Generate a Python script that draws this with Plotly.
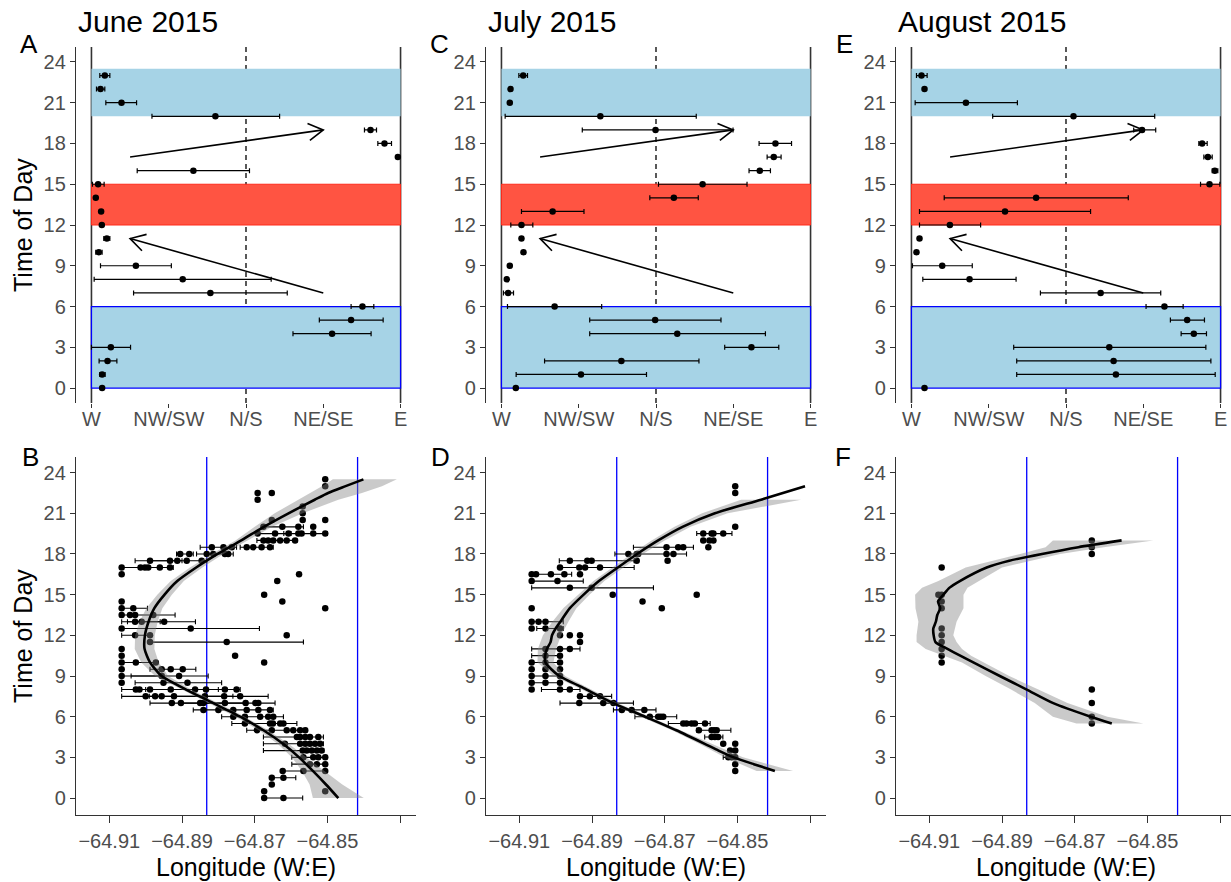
import math
import plotly.graph_objects as go

FIG_W, FIG_H = 1231, 882
FONT = "Liberation Sans"
TICK_COLOR = "#4D4D4D"
AXIS_COLOR = "#333333"

month_titles = ["June 2015", "July 2015", "August 2015"]
top_tags = ["A", "C", "E"]
bottom_tags = ["B", "D", "F"]

direction_ticks = [0, 1, 2, 3, 4]
direction_labels = ["W", "NW/SW", "N/S", "NE/SE", "E"]
hour_ticks = [0, 3, 6, 9, 12, 15, 18, 21, 24]
lon_ticks = [-64.91, -64.89, -64.87, -64.85, -64.83]
lon_labels = ["\u221264.91", "\u221264.89", "\u221264.87", "\u221264.85", ""]

# ---------------- top row: mean direction per hour ----------------
top_hours = list(range(24))

june_dir = [0.138, 0.138, 0.208, 0.251, 3.114, 3.360, 3.507, 1.539, 1.181, 0.575, 0.095, 0.199,
            0.134, 0.125, 0.056, 0.086, 1.319, 3.965, 3.792, 3.611, 1.604, 0.389, 0.117, 0.173]
june_lo = [0.138, 0.108, 0.099, 0.0, 2.608, 2.949, 3.360, 0.545, 0.035, 0.117, 0.056, 0.160,
           0.134, 0.125, 0.056, 0.013, 0.592, 3.965, 3.706, 3.533, 0.783, 0.186, 0.065, 0.108]
june_hi = [0.138, 0.177, 0.329, 0.506, 3.619, 3.775, 3.654, 2.534, 2.326, 1.034, 0.138, 0.238,
           0.134, 0.125, 0.056, 0.164, 2.045, 3.965, 3.883, 3.689, 2.435, 0.584, 0.173, 0.238]

july_dir = [0.186, 1.029, 1.552, 3.235, 2.275, 1.989, 0.688, 0.086, 0.069, 0.108, 0.285, 0.259,
            0.259, 0.662, 2.231, 2.603, 3.343, 3.524, 3.546, 1.994, 1.280, 0.108, 0.117, 0.281]
july_lo = [0.186, 0.190, 0.558, 2.889, 1.142, 1.142, 0.078, 0.026, 0.060, 0.090, 0.285, 0.259,
           0.121, 0.259, 1.920, 2.032, 3.204, 3.438, 3.334, 1.046, 0.048, 0.108, 0.100, 0.225]
july_hi = [0.186, 1.877, 2.556, 3.589, 3.416, 2.841, 1.297, 0.156, 0.080, 0.125, 0.285, 0.259,
           0.406, 1.068, 2.547, 3.178, 3.481, 3.619, 3.754, 2.997, 2.521, 0.108, 0.135, 0.337]

aug_dir = [0.169, 2.646, 2.616, 2.560, 3.654, 3.568, 3.274, 2.448, 0.752, 0.398, 0.065, 0.104,
           0.497, 1.211, 1.613, 3.857, 3.926, 3.836, 3.762, 2.984, 2.097, 0.705, 0.169, 0.130]
aug_lo = [0.169, 1.362, 1.362, 1.323, 3.490, 3.351, 3.036, 1.669, 0.147, 0.013, 0.065, 0.090,
          0.104, 0.104, 0.424, 3.741, 3.892, 3.784, 3.719, 2.876, 1.051, 0.048, 0.169, 0.065]
aug_hi = [0.169, 3.931, 3.875, 3.810, 3.818, 3.792, 3.516, 3.226, 1.354, 0.787, 0.065, 0.120,
          0.895, 2.318, 2.806, 3.991, 3.965, 3.892, 3.827, 3.161, 3.148, 1.371, 0.169, 0.203]

night_bands = [(0, 6), (20, 23.5)]
midday_band = (12, 15)
arrows = [((0.5, 17), (3.0, 19)), ((3.0, 7), (0.5, 11))]

# ---------------- bottom row: longitude per half hour ----------------
june_rows = [
    (23.5, [-64.8506]),
    (23.0, [-64.8506]),
    (22.5, [-64.8692, -64.8653]),
    (22.0, [-64.8692]),
    (21.5, [-64.8568]),
    (21.0, [-64.8568]),
    (20.5, [-64.8653, -64.8568, -64.8506]),
    (20.0, [-64.8676, -64.8624, -64.8580, -64.8539]),
    (19.5, [-64.8692, -64.8644, -64.8607, -64.8580, -64.8571, -64.8539, -64.8506]),
    (19.0, [-64.8676, -64.8663, -64.8649, -64.8630, -64.8612, -64.8589]),
    (18.5, [-64.8818, -64.8786, -64.8763, -64.8722, -64.8704, -64.8681, -64.8658]),
    (18.0, [-64.8905, -64.8880, -64.8832, -64.8814, -64.8782, -64.8773]),
    (17.5, [-64.8988, -64.8933, -64.8913, -64.8887, -64.8846]),
    (17.0, [-64.9066, -64.9014, -64.9002, -64.8993, -64.8961, -64.8933]),
    (16.5, [-64.9066, -64.8578]),
    (16.0, [-64.8638]),
    (15.0, [-64.8674]),
    (14.5, [-64.9066, -64.8624]),
    (14.0, [-64.9066, -64.9034, -64.8506]),
    (13.5, [-64.9066, -64.9043, -64.9029, -64.8979]),
    (13.0, [-64.9029, -64.9011, -64.8949]),
    (12.5, [-64.9066, -64.8876]),
    (12.0, [-64.9029, -64.8988, -64.8612]),
    (11.5, [-64.8988, -64.8777]),
    (11.0, [-64.9066]),
    (10.5, [-64.9066, -64.8754]),
    (10.0, [-64.9066, -64.9027, -64.8972, -64.8674]),
    (9.5, [-64.9066, -64.8956, -64.8931, -64.8898]),
    (9.0, [-64.9066, -64.8956, -64.8908]),
    (8.5, [-64.9066, -64.8951, -64.8885]),
    (8.0, [-64.9027, -64.9017, -64.8988, -64.8931, -64.8864, -64.8834, -64.8782, -64.8750]),
    (7.5, [-64.9000, -64.8974, -64.8956, -64.8922, -64.8837, -64.8784, -64.8740]),
    (7.0, [-64.8928, -64.8903, -64.8850, -64.8841, -64.8782, -64.8725, -64.8698, -64.8690]),
    (6.5, [-64.8841, -64.8800, -64.8759, -64.8722, -64.8690, -64.8658]),
    (6.0, [-64.8759, -64.8727, -64.8685, -64.8663, -64.8649]),
    (5.5, [-64.8727, -64.8658, -64.8650, -64.8630, -64.8621]),
    (5.0, [-64.8694, -64.8653, -64.8612, -64.8594, -64.8575, -64.8561]),
    (4.5, [-64.8584, -64.8575, -64.8561, -64.8548, -64.8525]),
    (4.0, [-64.8617, -64.8575, -64.8561, -64.8548, -64.8534, -64.8520]),
    (3.5, [-64.8568, -64.8557, -64.8543, -64.8529, -64.8516]),
    (3.0, [-64.8566, -64.8539, -64.8525, -64.8506]),
    (2.5, [-64.8548, -64.8529, -64.8506]),
    (2.0, [-64.8623, -64.8566, -64.8506]),
    (1.5, [-64.8653, -64.8621]),
    (1.0, [-64.8653]),
    (0.5, [-64.8674, -64.8506]),
    (0.0, [-64.8674, -64.8621]),
]
june_errbars = [
    (20.0, -64.8676, -64.8566), (19.5, -64.8694, -64.8600), (19.5, -64.8620, -64.8500),
    (19.0, -64.8694, -64.8584), (18.5, -64.8850, -64.8750), (18.5, -64.8740, -64.8649),
    (18.0, -64.8915, -64.8869), (18.0, -64.8860, -64.8759), (17.5, -64.9029, -64.8832),
    (17.5, -64.8990, -64.8900), (17.0, -64.9066, -64.8924), (14.0, -64.9066, -64.8995),
    (13.5, -64.9071, -64.8919), (13.0, -64.9066, -64.8863), (13.0, -64.9050, -64.8960),
    (12.5, -64.9066, -64.8687), (12.0, -64.9066, -64.8988), (11.5, -64.8988, -64.8566),
    (10.0, -64.9066, -64.8970), (9.5, -64.8988, -64.8862), (9.0, -64.9066, -64.8828),
    (9.0, -64.9040, -64.8950), (8.5, -64.9029, -64.8791), (8.0, -64.9066, -64.8740),
    (8.0, -64.9000, -64.8800), (7.5, -64.9066, -64.8663), (7.5, -64.8990, -64.8760),
    (7.0, -64.8988, -64.8644), (7.0, -64.8900, -64.8720), (6.5, -64.8869, -64.8649),
    (6.0, -64.8791, -64.8621), (5.5, -64.8763, -64.8584), (5.0, -64.8722, -64.8557),
    (4.5, -64.8676, -64.8511), (4.0, -64.8676, -64.8511), (3.5, -64.8676, -64.8510),
    (3.0, -64.8598, -64.8502), (2.5, -64.8598, -64.8502), (2.0, -64.8623, -64.8506),
    (1.5, -64.8653, -64.8587), (0.0, -64.8674, -64.8568),
]
june_smooth_hour = [0, 1, 2, 3, 4, 5, 6, 7, 8, 9, 10, 11, 12, 13, 14, 15, 16, 17, 18, 19, 20,
                    21, 22, 22.5, 23, 23.5]
june_smooth_lon = [-64.8470, -64.8504, -64.8540, -64.8578, -64.8622, -64.8676, -64.8740, -64.8814,
                   -64.8889, -64.8956, -64.8988, -64.9003, -64.9002, -64.8992, -64.8976, -64.8948,
                   -64.8913, -64.8861, -64.8802, -64.8737, -64.8675, -64.8607, -64.8535, -64.8498,
                   -64.8450, -64.8401]
june_band_hour = [0, 1, 2, 3, 4, 5, 6, 7, 8, 9, 10, 11, 12, 13, 14, 15, 16, 17, 18, 19, 20,
                  21, 22, 22.5, 23, 23.5]
june_band_lo = [-64.8540, -64.8549, -64.8570, -64.8598, -64.8637, -64.8689, -64.8753, -64.8827,
                -64.8903, -64.8974, -64.9012, -64.9030, -64.9029, -64.9017, -64.8998, -64.8968,
                -64.8931, -64.8878, -64.8818, -64.8753, -64.8700, -64.8645, -64.8580, -64.8546,
                -64.8515, -64.8485]
june_band_hi = [-64.8400, -64.8459, -64.8510, -64.8558, -64.8607, -64.8663, -64.8727, -64.8801,
                -64.8875, -64.8938, -64.8964, -64.8976, -64.8975, -64.8967, -64.8954, -64.8928,
                -64.8895, -64.8844, -64.8786, -64.8720, -64.8652, -64.8568, -64.8470, -64.8405,
                -64.8350, -64.8309]

july_rows = [
    (23.0, [-64.8506]),
    (22.5, [-64.8506]),
    (20.0, [-64.8506]),
    (19.5, [-64.8594, -64.8571, -64.8566, -64.8539]),
    (19.0, [-64.8594, -64.8577, -64.8566]),
    (18.5, [-64.8695, -64.8663, -64.8649, -64.8580]),
    (18.0, [-64.8800, -64.8777, -64.8773, -64.8695, -64.8676]),
    (17.5, [-64.8961, -64.8913, -64.8901, -64.8777, -64.8692]),
    (17.0, [-64.8988, -64.8935, -64.8919, -64.8878]),
    (16.5, [-64.9066, -64.9054, -64.9013, -64.8976, -64.8933]),
    (16.0, [-64.9066, -64.8995]),
    (15.5, [-64.8961, -64.8901]),
    (15.0, [-64.8843, -64.8612]),
    (14.5, [-64.8761]),
    (14.0, [-64.9066, -64.8708]),
    (13.0, [-64.9066, -64.9047, -64.9028]),
    (12.5, [-64.9066, -64.9028, -64.8988]),
    (12.0, [-64.8988, -64.8961, -64.8933]),
    (11.5, [-64.8933]),
    (11.0, [-64.9028, -64.8988, -64.8961]),
    (10.5, [-64.9028, -64.8988]),
    (10.0, [-64.9066, -64.9028, -64.8988]),
    (9.5, [-64.9066, -64.9028, -64.8988]),
    (9.0, [-64.9066, -64.9028, -64.8988]),
    (8.5, [-64.9066, -64.9028, -64.8988]),
    (8.0, [-64.9066, -64.8988, -64.8961]),
    (7.5, [-64.8933, -64.8906, -64.8878]),
    (7.0, [-64.8935, -64.8869, -64.8841]),
    (6.5, [-64.8818, -64.8791, -64.8756]),
    (6.0, [-64.8741, -64.8718, -64.8711, -64.8704]),
    (5.5, [-64.8649, -64.8640, -64.8626, -64.8617, -64.8589]),
    (5.0, [-64.8606, -64.8571, -64.8564, -64.8557]),
    (4.5, [-64.8571, -64.8562, -64.8553]),
    (4.0, [-64.8539, -64.8506]),
    (3.5, [-64.8520, -64.8506]),
    (3.0, [-64.8525, -64.8516, -64.8506]),
    (2.5, [-64.8506]),
    (2.0, [-64.8506]),
]
july_errbars = [
    (19.5, -64.8612, -64.8515), (18.5, -64.8786, -64.8621), (18.0, -64.8837, -64.8640),
    (17.5, -64.8990, -64.8784), (17.0, -64.8988, -64.8784), (16.5, -64.9066, -64.8956),
    (16.0, -64.9066, -64.8924), (15.5, -64.9066, -64.8731), (13.0, -64.9066, -64.8979),
    (12.5, -64.9052, -64.8979), (11.0, -64.9066, -64.8933), (10.5, -64.9066, -64.8988),
    (10.0, -64.9066, -64.8988), (9.0, -64.9066, -64.8988), (8.5, -64.9066, -64.8988),
    (8.0, -64.9039, -64.8933), (7.5, -64.8933, -64.8846), (7.0, -64.8988, -64.8786),
    (6.5, -64.8841, -64.8724), (6.0, -64.8782, -64.8667), (5.5, -64.8690, -64.8575),
    (5.0, -64.8612, -64.8518), (4.5, -64.8590, -64.8540), (3.0, -64.8539, -64.8508),
]
july_smooth_hour = [2, 2.5, 3, 3.5, 4, 5, 6, 7, 8, 9, 9.5, 10, 10.5, 11, 11.5, 12, 12.5, 13,
                    14, 15, 16, 17, 18, 19, 20, 21, 22, 23]
july_smooth_lon = [-64.8397, -64.8455, -64.8510, -64.8552, -64.8590, -64.8668, -64.8754, -64.8842,
                   -64.8915, -64.8990, -64.9012, -64.9028, -64.9029, -64.9024, -64.9014, -64.9010,
                   -64.9000, -64.8987, -64.8961, -64.8923, -64.8881, -64.8829, -64.8776, -64.8718,
                   -64.8651, -64.8562, -64.8435, -64.8314]
july_band_hour = [2, 3, 4, 5, 6, 7, 8, 9, 10, 11, 12, 13, 14, 15, 16, 17, 18, 19, 20, 21, 22]
july_band_lo = [-64.8447, -64.8535, -64.8605, -64.8680, -64.8766, -64.8854, -64.8928, -64.9006,
                -64.9050, -64.9049, -64.9035, -64.9009, -64.8979, -64.8939, -64.8896, -64.8844,
                -64.8792, -64.8736, -64.8673, -64.8597, -64.8490]
july_band_hi = [-64.8347, -64.8485, -64.8575, -64.8656, -64.8742, -64.8830, -64.8902, -64.8974,
                -64.9006, -64.8999, -64.8985, -64.8965, -64.8943, -64.8907, -64.8866, -64.8814,
                -64.8760, -64.8700, -64.8629, -64.8527, -64.8325]

aug_rows = [
    (19.0, [-64.8653]), (18.5, [-64.8653]), (18.0, [-64.8653]), (17.0, [-64.9066]),
    (15.0, [-64.9075, -64.9066]), (14.5, [-64.9066]), (14.0, [-64.9066]),
    (12.5, [-64.9066]), (12.0, [-64.9066]), (11.5, [-64.9066]), (11.0, [-64.9066]),
    (10.5, [-64.9066]), (10.0, [-64.9066]),
    (8.0, [-64.8653]), (7.0, [-64.8653]), (6.0, [-64.8653]), (5.5, [-64.8653]),
]
aug_errbars = []
aug_smooth_hour = [5.5, 6, 7, 8, 9, 10, 10.5, 11, 11.5, 12, 12.5, 13, 13.5, 14, 14.5, 15, 15.5,
                   16, 17, 17.5, 18, 18.5, 19]
aug_smooth_lon = [-64.8598, -64.8656, -64.8759, -64.8832, -64.8906, -64.8979, -64.9015, -64.9050,
                  -64.9083, -64.9088, -64.9089, -64.9082, -64.9078, -64.9070, -64.9076, -64.9061,
                  -64.9045, -64.9016, -64.8942, -64.8880, -64.8790, -64.8690, -64.8571]
aug_band_hour = [5.5, 6, 7, 8, 9, 10, 10.5, 11, 11.5, 12, 13, 14, 15, 15.5, 16, 17, 18, 18.5, 19]
aug_band_lo = [-64.8695, -64.8760, -64.8810, -64.8875, -64.8945, -64.9010, -64.9060, -64.9110,
               -64.9135, -64.9135, -64.9130, -64.9138, -64.9139, -64.9120, -64.9075, -64.9000,
               -64.8850, -64.8780, -64.8760]
aug_band_hi = [-64.8511, -64.8610, -64.8720, -64.8800, -64.8880, -64.8950, -64.8985, -64.9010,
               -64.9025, -64.9034, -64.9025, -64.9006, -64.9006, -64.8995, -64.8965, -64.8900,
               -64.8740, -64.8620, -64.8484]

blue_lon_lines = [-64.8832, -64.8417]

# ---------------- geometry ----------------
PANEL_LEFT = [76, 486, 896]
PANEL_W = 340
TOP_Y = (47, 403)
BOT_Y = (457, 815)
TOP_XRANGE = [-0.2, 4.2]
TOP_YRANGE = [-1.1, 25.1]
BOT_XRANGE = [-64.91916, -64.82563]
BOT_YRANGE = [-1.25, 25.15]


def panel_right(k):
    return min(PANEL_LEFT[k] + PANEL_W, FIG_W)


def xdom(k):
    return [PANEL_LEFT[k] / FIG_W, panel_right(k) / FIG_W]


def xrange_for(k, full):
    frac = (panel_right(k) - PANEL_LEFT[k]) / PANEL_W
    return [full[0], full[0] + (full[1] - full[0]) * frac]


def ydom(yy):
    return [1 - yy[1] / FIG_H, 1 - yy[0] / FIG_H]


def sfx(i):
    return "" if i == 1 else str(i)


fig = go.Figure()
layout = dict(
    width=FIG_W, height=FIG_H, margin=dict(l=0, r=0, t=0, b=0),
    paper_bgcolor="white", plot_bgcolor="white", showlegend=False,
    hovermode=False, font=dict(family=FONT, color=TICK_COLOR),
)
shapes = []
annotations = []

top_data = [(june_dir, june_lo, june_hi), (july_dir, july_lo, july_hi), (aug_dir, aug_lo, aug_hi)]
bot_data = [
    (june_rows, june_errbars, june_smooth_hour, june_smooth_lon, june_band_hour, june_band_lo, june_band_hi),
    (july_rows, july_errbars, july_smooth_hour, july_smooth_lon, july_band_hour, july_band_lo, july_band_hi),
    (aug_rows, aug_errbars, aug_smooth_hour, aug_smooth_lon, aug_band_hour, aug_band_lo, aug_band_hi),
]

tickfont = dict(family=FONT, size=20, color=TICK_COLOR)
ppx = PANEL_W / (TOP_XRANGE[1] - TOP_XRANGE[0])
ppy = (TOP_Y[1] - TOP_Y[0]) / (TOP_YRANGE[1] - TOP_YRANGE[0])


def chevron(p0, p1, length=17.0, ang=30.0):
    dx = (p1[0] - p0[0]) * ppx
    dy = (p1[1] - p0[1]) * ppy
    n = math.hypot(dx, dy)
    ux, uy = -dx / n, -dy / n
    pts = []
    for s in (1, -1):
        a = math.radians(ang) * s
        bx = ux * math.cos(a) - uy * math.sin(a)
        by = ux * math.sin(a) + uy * math.cos(a)
        pts.append((p1[0] + bx * length / ppx, p1[1] + by * length / ppy))
    return [pts[0][0], p1[0], pts[1][0]], [pts[0][1], p1[1], pts[1][1]]


for k in range(3):
    # ---------- top panel ----------
    ti = sfx(k + 1)
    xa, ya = f"x{ti}", f"y{ti}"
    layout[f"xaxis{ti}"] = dict(
        domain=xdom(k), anchor=ya, range=xrange_for(k, TOP_XRANGE), tickvals=direction_ticks,
        ticktext=direction_labels, ticks="outside", ticklen=4, tickwidth=1.2,
        tickcolor=AXIS_COLOR, showline=False, showgrid=False, zeroline=False,
        tickfont=tickfont, fixedrange=True, ticklabelstandoff=-6,
    )
    layout[f"yaxis{ti}"] = dict(
        domain=ydom(TOP_Y), anchor=xa, range=TOP_YRANGE, tickvals=hour_ticks,
        ticks="outside", ticklen=5, tickwidth=1.2, tickcolor=AXIS_COLOR,
        showline=True, linecolor=AXIS_COLOR, linewidth=1.3, showgrid=False,
        zeroline=False, tickfont=tickfont, fixedrange=True,
    )
    x_w, x_e, x_ns = direction_ticks[0], direction_ticks[-1], direction_ticks[2]
    for (b0, b1) in night_bands:
        edge = dict(color="#0000FF", width=1.3) if b0 == 0 else dict(width=0)
        shapes.append(dict(type="rect", xref=xa, yref=ya, x0=x_w, x1=x_e, y0=b0, y1=b1,
                           fillcolor="#A6D3E6", line=edge, layer="below"))
    shapes.append(dict(type="rect", xref=xa, yref=ya, x0=x_w, x1=x_e,
                       y0=midday_band[0], y1=midday_band[1],
                       fillcolor="#FF5442", line=dict(color="#FF2A1A", width=1), layer="below"))
    for xv in (x_w, x_e):
        shapes.append(dict(type="line", xref=xa, yref=f"{ya} domain", x0=xv, x1=xv, y0=0, y1=1,
                           line=dict(color=AXIS_COLOR, width=1.6), layer="below"))
    shapes.append(dict(type="line", xref=xa, yref=f"{ya} domain", x0=x_ns, x1=x_ns, y0=0, y1=1,
                       line=dict(color="black", width=1.3, dash="5px,4px"), layer="below"))

    cen, lo, hi = top_data[k]
    fig.add_trace(go.Scatter(
        x=cen, y=top_hours, mode="markers", xaxis=xa, yaxis=ya,
        marker=dict(color="black", size=6.5),
        error_x=dict(type="data", symmetric=False,
                     array=[h - c for h, c in zip(hi, cen)],
                     arrayminus=[c - l for c, l in zip(cen, lo)],
                     color="black", thickness=1.2, width=2.5),
    ))
    for (p0, p1) in arrows:
        fig.add_trace(go.Scatter(x=[p0[0], p1[0]], y=[p0[1], p1[1]], mode="lines",
                                 xaxis=xa, yaxis=ya, line=dict(color="black", width=1.6)))
        cx, cy = chevron(p0, p1)
        fig.add_trace(go.Scatter(x=cx, y=cy, mode="lines", xaxis=xa, yaxis=ya,
                                 line=dict(color="black", width=1.6)))

    # ---------- bottom panel ----------
    bi = sfx(k + 4)
    xb, yb = f"x{bi}", f"y{bi}"
    layout[f"xaxis{bi}"] = dict(
        domain=xdom(k), anchor=yb, range=xrange_for(k, BOT_XRANGE), tickvals=lon_ticks,
        ticktext=lon_labels,
        ticks="outside", ticklen=7, tickwidth=1.2, tickcolor=AXIS_COLOR,
        showline=True, linecolor=AXIS_COLOR, linewidth=1.3, showgrid=False,
        zeroline=False, tickfont=tickfont, fixedrange=True, ticklabelstandoff=1,
    )
    layout[f"yaxis{bi}"] = dict(
        domain=ydom(BOT_Y), anchor=xb, range=BOT_YRANGE, tickvals=hour_ticks,
        ticks="outside", ticklen=5, tickwidth=1.2, tickcolor=AXIS_COLOR,
        showline=True, linecolor=AXIS_COLOR, linewidth=1.3, showgrid=False,
        zeroline=False, tickfont=tickfont, fixedrange=True,
    )
    for lv in blue_lon_lines:
        shapes.append(dict(type="line", xref=xb, yref=f"{yb} domain", x0=lv, x1=lv, y0=0, y1=1,
                           line=dict(color="#0000FF", width=1.3), layer="below"))

    rows, ebs, sh, sl, bh, blo, bhi = bot_data[k]
    if ebs:
        fig.add_trace(go.Scatter(
            x=[(e[1] + e[2]) / 2 for e in ebs], y=[e[0] for e in ebs], mode="markers",
            xaxis=xb, yaxis=yb, marker=dict(color="rgba(0,0,0,0)", size=1),
            error_x=dict(type="data", symmetric=True, array=[(e[2] - e[1]) / 2 for e in ebs],
                         color="black", thickness=1.1, width=2.5),
        ))
    px_, py_ = [], []
    for h, lons in rows:
        for lv in lons:
            px_.append(lv)
            py_.append(h)
    fig.add_trace(go.Scatter(x=px_, y=py_, mode="markers", xaxis=xb, yaxis=yb,
                             marker=dict(color="black", size=6.5)))
    fig.add_trace(go.Scatter(x=list(blo) + list(bhi)[::-1], y=list(bh) + list(bh)[::-1],
                             mode="lines", fill="toself", fillcolor="rgba(128,128,128,0.42)",
                             line=dict(width=0), xaxis=xb, yaxis=yb))
    fig.add_trace(go.Scatter(x=sl, y=sh, mode="lines", xaxis=xb, yaxis=yb,
                             line=dict(color="black", width=2.6, shape="spline", smoothing=0.6)))

    # ---------- text ----------
    annotations.append(dict(text=month_titles[k], xref="paper", yref="paper",
                            x=PANEL_LEFT[k] / FIG_W, y=1 - 22 / FIG_H, xanchor="left",
                            yanchor="middle", showarrow=False,
                            font=dict(family=FONT, size=30, color="black")))
    annotations.append(dict(text="Longitude (W:E)", xref="paper", yref="paper",
                            x=(PANEL_LEFT[k] + PANEL_W / 2) / FIG_W, y=1 - 867 / FIG_H,
                            xanchor="center", yanchor="middle", showarrow=False,
                            font=dict(family=FONT, size=25, color="black")))

tag_pos_top = [(29, 44), (439.5, 44), (844, 44)]
tag_pos_bot = [(30, 457), (440, 457), (842.5, 457)]
for k in range(3):
    for tag, (tx, ty) in ((top_tags[k], tag_pos_top[k]), (bottom_tags[k], tag_pos_bot[k])):
        annotations.append(dict(text=tag, xref="paper", yref="paper", x=tx / FIG_W,
                                y=1 - ty / FIG_H, xanchor="center", yanchor="middle",
                                showarrow=False, font=dict(family=FONT, size=26, color="black")))
for cy in (225, 636):
    annotations.append(dict(text="Time of Day", xref="paper", yref="paper", x=23 / FIG_W,
                            y=1 - cy / FIG_H, xanchor="center", yanchor="middle",
                            textangle=-90, showarrow=False,
                            font=dict(family=FONT, size=25, color="black")))

layout["shapes"] = shapes
layout["annotations"] = annotations
fig.update_layout(**layout)
fig.write_html("out.html")
